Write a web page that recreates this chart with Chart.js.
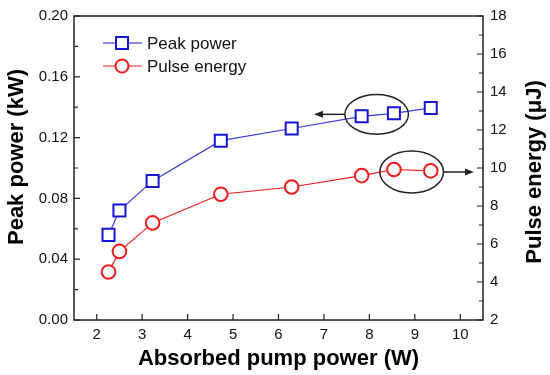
<!DOCTYPE html>
<html>
<head>
<meta charset="utf-8">
<script src="https://cdn.jsdelivr.net/npm/chart.js@4/dist/chart.umd.min.js"></script>
<style>
  html, body { margin: 0; padding: 0; background: #fff; }
  #wrap { width: 550px; height: 375px; }
</style>
</head>
<body>
<div id="wrap"><canvas id="c"></canvas></div>
<script>
// values
const pumpPower = [2.26, 2.50, 3.23, 4.73, 6.29, 7.83, 8.54, 9.35];
const peakPower = [0.056, 0.072, 0.0915, 0.118, 0.126, 0.134, 0.136, 0.1395];
const pulseEnergy = [4.53, 5.61, 7.11, 8.62, 9.00, 9.60, 9.92, 9.85];

const xTicks = [2, 3, 4, 5, 6, 7, 8, 9, 10];
const yLeftTicks = [0, 0.04, 0.08, 0.12, 0.16, 0.20];
const yRightTicks = [2, 4, 6, 8, 10, 12, 14, 16, 18];

// annotation ellipses + arrows, in data units
const ellipsePeak = { x: 8.16, y: 0.1353, rx: 0.70, ry: 0.0131 };
const arrowPeak = { from: 7.46, to: 6.78, y: 0.1353 };
const ellipseEnergy = { x: 8.93, y: 9.79, rx: 0.70, ry: 1.10 };
const arrowEnergy = { from: 9.63, to: 10.30, y: 9.79 };

const BLUE = '#1414d2';
const RED = '#ee1c1c';
const FONT = '"Liberation Sans", Arial, sans-serif';

function fixWidth(w) { return s => { s.width = w; }; }

const decor = {
  id: 'decor',
  afterDraw(chart) {
    const ctx = chart.ctx;
    const a = chart.chartArea;
    const x = chart.scales.x, yl = chart.scales.y, yr = chart.scales.y1;
    ctx.save();
    ctx.strokeStyle = '#222';
    ctx.lineWidth = 1.5;
    ctx.strokeRect(a.left, a.top, a.right - a.left, a.bottom - a.top);

    // inward ticks
    ctx.lineWidth = 1.2;
    ctx.beginPath();
    xTicks.forEach(v => {
      const px = x.getPixelForValue(v);
      ctx.moveTo(px, a.bottom); ctx.lineTo(px, a.bottom - 6);
    });
    for (let v = 0; v <= 0.2001; v += 0.02) {
      const py = yl.getPixelForValue(v);
      const major = Math.round(v * 100) % 4 === 0;
      ctx.moveTo(a.left, py); ctx.lineTo(a.left + (major ? 6 : 4), py);
    }
    for (let v = 2; v <= 18; v += 1) {
      const py = yr.getPixelForValue(v);
      const major = v % 2 === 0;
      ctx.moveTo(a.right, py); ctx.lineTo(a.right - (major ? 6 : 4), py);
    }
    ctx.stroke();

    // ellipses and arrows
    const drawEllipse = (e, ys) => {
      const cx = x.getPixelForValue(e.x), cy = ys.getPixelForValue(e.y);
      const rx = x.getPixelForValue(e.x + e.rx) - cx;
      const ry = cy - ys.getPixelForValue(e.y + e.ry);
      ctx.beginPath();
      ctx.ellipse(cx, cy, rx, ry, 0, 0, Math.PI * 2);
      ctx.stroke();
    };
    const drawArrow = (ar, ys) => {
      const x0 = x.getPixelForValue(ar.from), x1 = x.getPixelForValue(ar.to);
      const py = ys.getPixelForValue(ar.y);
      const dir = Math.sign(x1 - x0);
      ctx.beginPath();
      ctx.moveTo(x0, py); ctx.lineTo(x1 - dir * 6, py);
      ctx.stroke();
      ctx.beginPath();
      ctx.moveTo(x1, py);
      ctx.lineTo(x1 - dir * 9, py - 3.5);
      ctx.lineTo(x1 - dir * 9, py + 3.5);
      ctx.closePath();
      ctx.fill();
    };
    ctx.strokeStyle = '#222';
    ctx.fillStyle = '#222';
    ctx.lineWidth = 1.5;
    drawEllipse(ellipsePeak, yl);
    drawArrow(arrowPeak, yl);
    drawEllipse(ellipseEnergy, yr);
    drawArrow(arrowEnergy, yr);

    // legend
    const legend = [
      { label: 'Peak power', color: BLUE, shape: 'rect', y: 43 },
      { label: 'Pulse energy', color: RED, shape: 'circle', y: 66 }
    ];
    legend.forEach(it => {
      ctx.strokeStyle = it.color;
      ctx.lineWidth = 1.2;
      ctx.beginPath();
      ctx.moveTo(103, it.y); ctx.lineTo(142, it.y);
      ctx.stroke();
      ctx.fillStyle = '#fff';
      ctx.lineWidth = 2;
      ctx.beginPath();
      if (it.shape === 'rect') ctx.rect(116, it.y - 6, 12, 12);
      else ctx.arc(122, it.y, 6.5, 0, Math.PI * 2);
      ctx.fill();
      ctx.stroke();
      ctx.fillStyle = '#111';
      ctx.font = '17px ' + FONT;
      ctx.textAlign = 'left';
      ctx.textBaseline = 'middle';
      ctx.fillText(it.label, 147, it.y + 1);
    });

    // axis titles
    ctx.fillStyle = '#000';
    ctx.font = 'bold 22px ' + FONT;
    ctx.textAlign = 'center';
    ctx.textBaseline = 'middle';
    ctx.fillText('Absorbed pump power (W)', (a.left + a.right) / 2, 359);
    ctx.save();
    ctx.translate(17, 157);
    ctx.rotate(-Math.PI / 2);
    ctx.fillText('Peak power (kW)', 0, 0);
    ctx.restore();
    ctx.save();
    ctx.translate(535, 172);
    ctx.rotate(-Math.PI / 2);
    ctx.fillText('Pulse energy (\u03bcJ)', 0, 0);
    ctx.restore();
    ctx.restore();
  }
};

const tickFont = { family: FONT, size: 15 };

new Chart(document.getElementById('c'), {
  type: 'line',
  data: {
    datasets: [
      {
        label: 'Peak power',
        data: pumpPower.map((v, i) => ({ x: v, y: peakPower[i] })),
        yAxisID: 'y',
        borderColor: '#3a3ae0',
        borderWidth: 1.2,
        pointStyle: 'rect',
        pointRadius: 8.5,
        pointBorderWidth: 2,
        pointBorderColor: BLUE,
        pointBackgroundColor: '#fff',
        tension: 0
      },
      {
        label: 'Pulse energy',
        data: pumpPower.map((v, i) => ({ x: v, y: pulseEnergy[i] })),
        yAxisID: 'y1',
        borderColor: RED,
        borderWidth: 1.2,
        pointStyle: 'circle',
        pointRadius: 6.8,
        pointBorderWidth: 2,
        pointBorderColor: RED,
        pointBackgroundColor: '#fff',
        tension: 0
      }
    ]
  },
  options: {
    responsive: true,
    maintainAspectRatio: false,
    animation: false,
    layout: { padding: { top: 14, left: 0, right: 0, bottom: 0 } },
    plugins: { legend: { display: false }, tooltip: { enabled: false } },
    scales: {
      x: {
        type: 'linear',
        min: 1.5, max: 10.5,
        afterBuildTicks: s => { s.ticks = xTicks.map(v => ({ value: v })); },
        afterFit: s => { s.height = 55; },
        grid: { display: false, drawTicks: false },
        border: { display: false },
        ticks: { color: '#111', font: tickFont, padding: 6, maxRotation: 0 }
      },
      y: {
        position: 'left',
        min: 0, max: 0.2,
        afterBuildTicks: s => { s.ticks = yLeftTicks.map(v => ({ value: v })); },
        afterFit: fixWidth(74),
        grid: { display: false, drawTicks: false },
        border: { display: false },
        ticks: { color: '#111', font: tickFont, padding: 6, callback: v => v.toFixed(2) }
      },
      y1: {
        position: 'right',
        min: 2, max: 18,
        afterBuildTicks: s => { s.ticks = yRightTicks.map(v => ({ value: v })); },
        afterFit: fixWidth(67),
        grid: { display: false, drawTicks: false },
        border: { display: false },
        ticks: { color: '#111', font: tickFont, padding: 7 }
      }
    }
  },
  plugins: [decor]
});
</script>
</body>
</html>
